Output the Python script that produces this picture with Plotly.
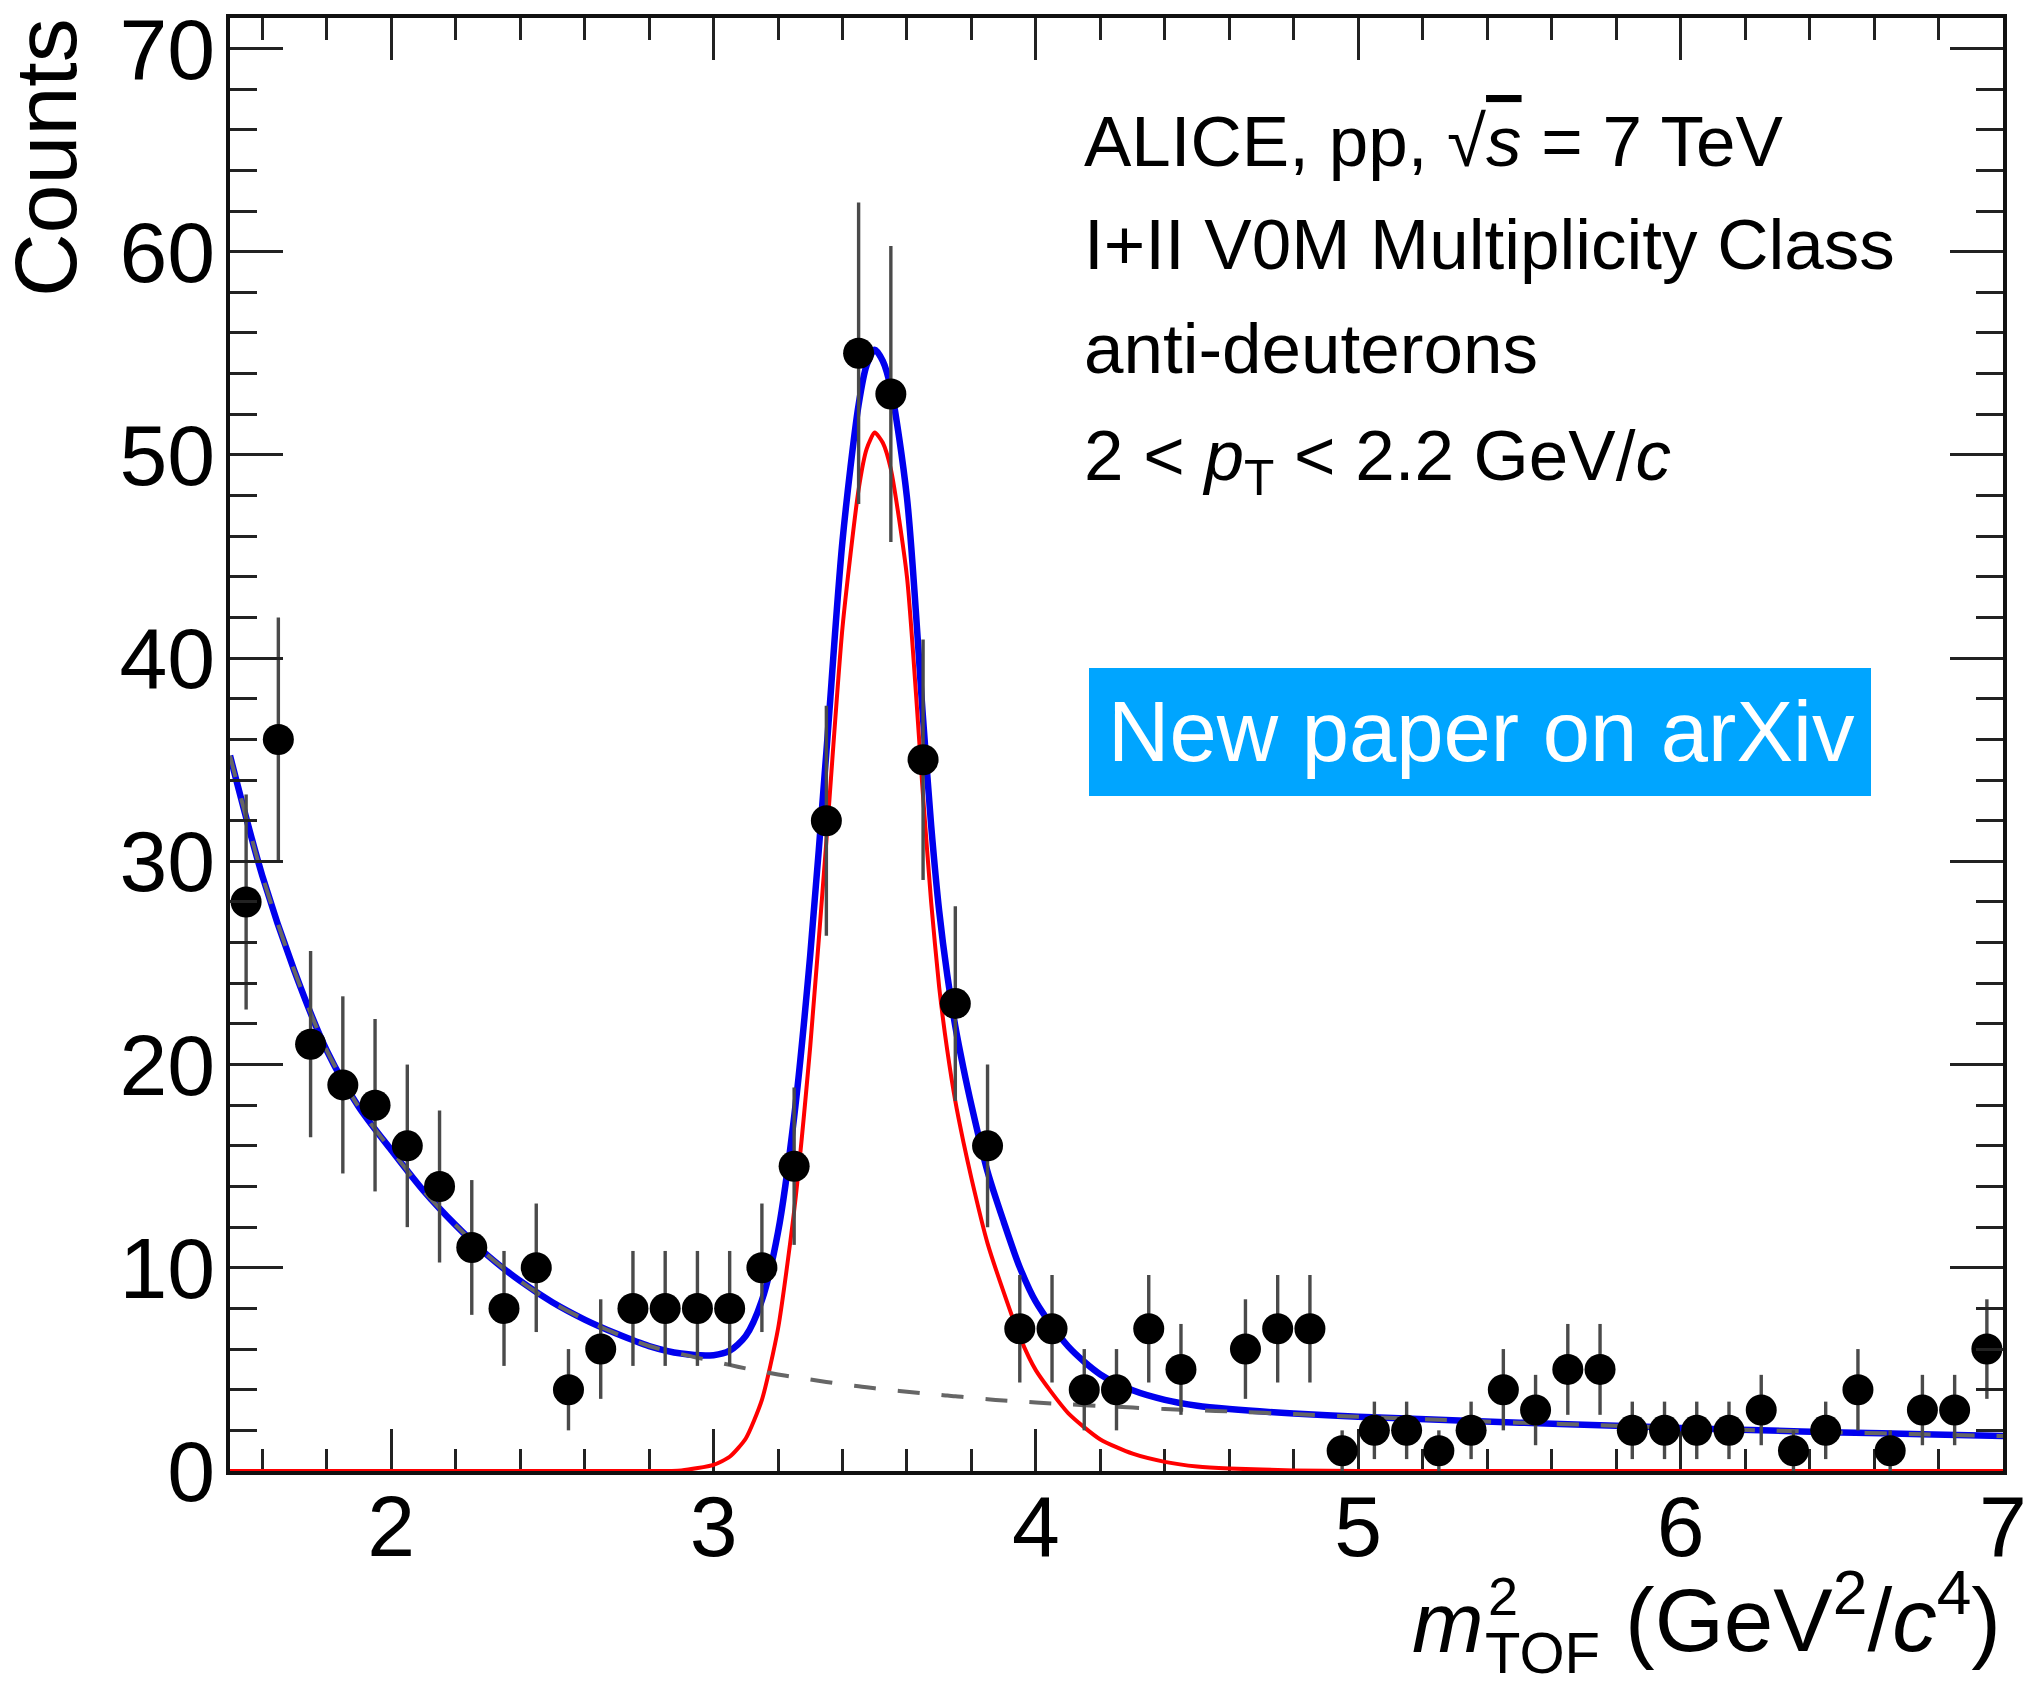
import numpy as np
import plotly.graph_objects as go

# ---- histogram: m^2_TOF bin centres and counts (bin width 0.1) ----
bin_centers = [1.55, 1.65, 1.75, 1.85, 1.95, 2.05, 2.15, 2.25, 2.35, 2.45,
               2.55, 2.65, 2.75, 2.85, 2.95, 3.05, 3.15, 3.25, 3.35, 3.45,
               3.55, 3.65, 3.75, 3.85, 3.95, 4.05, 4.15, 4.25, 4.35, 4.45,
               4.55, 4.65, 4.75, 4.85, 4.95, 5.05, 5.15, 5.25, 5.35, 5.45,
               5.55, 5.65, 5.75, 5.85, 5.95, 6.05, 6.15, 6.25, 6.35, 6.45,
               6.55, 6.65, 6.75, 6.85, 6.95]
counts = [28, 36, 21, 19, 18, 16, 14, 11, 8, 10,
          4, 6, 8, 8, 8, 8, 10, 15, 32, 55,
          53, 35, 23, 16, 7, 7, 4, 4, 7, 5,
          0, 6, 7, 7, 1, 2, 2, 1, 2, 4,
          3, 5, 5, 2, 2, 2, 2, 3, 1, 2,
          4, 1, 3, 3, 6]

# ---- fit curves sampled along m^2_TOF ----
curve_x = [1.5, 1.6, 1.7, 1.8, 1.9, 2.0, 2.1, 2.2, 2.3, 2.4,
           2.5, 2.6, 2.7, 2.8, 2.9, 3.0, 3.05, 3.1, 3.15, 3.2,
           3.25, 3.3, 3.35, 3.4, 3.45, 3.475, 3.5, 3.525, 3.55, 3.6,
           3.65, 3.675, 3.7, 3.725, 3.75, 3.775, 3.8, 3.85, 3.9, 3.95,
           4.0, 4.1, 4.2, 4.3, 4.4, 4.5, 4.6, 4.8, 5.0, 5.25,
           5.5, 5.75, 6.0, 6.25, 6.5, 6.75, 7.0]
background = [35.2, 29.3, 24.6, 20.7, 17.9, 15.8, 13.8, 12.1, 10.6, 9.35,
              8.3, 7.45, 6.75, 6.15, 5.75, 5.4, 5.22, 5.05, 4.9, 4.75,
              4.62, 4.5, 4.38, 4.27, 4.17, 4.12, 4.07, 4.02, 3.98, 3.9,
              3.82, 3.78, 3.75, 3.71, 3.68, 3.64, 3.6, 3.53, 3.47, 3.42,
              3.37, 3.28, 3.2, 3.12, 3.05, 2.99, 2.93, 2.8, 2.67, 2.52,
              2.38, 2.25, 2.12, 2.0, 1.9, 1.81, 1.72]
signal = [0, 0, 0, 0, 0, 0, 0, 0, 0, 0,
          0, 0, 0, 0, 0.03, 0.3, 0.7, 1.6, 3.5, 7.0,
          12.8, 20.9, 31.0, 41.5, 48.3, 50.3, 51.1, 50.6, 49.3, 44.0,
          33.2, 28.0, 23.8, 20.7, 18.2, 16.2, 14.4, 11.2, 8.8, 6.6,
          4.95, 2.85, 1.55, 0.85, 0.45, 0.22, 0.12, 0.03, 0, 0,
          0, 0, 0, 0, 0, 0, 0]
total = [35.2, 29.3, 24.6, 20.7, 17.9, 15.8, 13.8, 12.1, 10.6, 9.35,
         8.3, 7.45, 6.75, 6.15, 5.78, 5.7, 5.92, 6.65, 8.4, 11.75,
         17.42, 25.4, 35.38, 45.77, 52.47, 54.42, 55.17, 54.62, 53.28, 47.9,
         37.02, 31.78, 27.55, 24.41, 21.88, 19.84, 18.0, 14.73, 12.27, 10.02,
         8.32, 6.13, 4.75, 3.97, 3.5, 3.21, 3.05, 2.83, 2.67, 2.52,
         2.38, 2.25, 2.12, 2.0, 1.9, 1.81, 1.72]

x_ticks = [2, 3, 4, 5, 6, 7]
y_ticks = [0, 10, 20, 30, 40, 50, 60, 70]

# ---- canvas geometry ----
W_PX, H_PX = 2023, 1681
M_L, M_R, M_T, M_B = 230, 20, 18, 210
PW = W_PX - M_L - M_R
PH = H_PX - M_T - M_B
FONT = "Liberation Sans, Arial, Helvetica, sans-serif"


def fx(px):
    return (px - M_L) / PW


def fy(py):
    return (H_PX - M_B - py) / PH


# Empty bins are not drawn
pts = [(x, c) for x, c in zip(bin_centers, counts) if c > 0]
px_pts = [p[0] for p in pts]
py_pts = [p[1] for p in pts]
err_pts = list(np.sqrt(py_pts))

fig = go.Figure()

fig.add_trace(go.Scatter(
    x=curve_x, y=total, mode="lines",
    line=dict(color="#0000ee", width=6.5, shape="spline", smoothing=0.8),
    hoverinfo="skip", showlegend=False))
fig.add_trace(go.Scatter(
    x=curve_x, y=signal, mode="lines",
    line=dict(color="#ff0000", width=4, shape="spline", smoothing=0.6),
    hoverinfo="skip", showlegend=False))
fig.add_trace(go.Scatter(
    x=curve_x, y=background, mode="lines",
    line=dict(color="#666666", width=4, dash="22px,22px",
              shape="spline", smoothing=0.8),
    hoverinfo="skip", showlegend=False))
fig.add_trace(go.Scatter(
    x=px_pts, y=py_pts, mode="markers",
    marker=dict(color="black", size=31, line=dict(width=0)),
    error_y=dict(type="data", array=err_pts, visible=True,
                 color="#4a4a4a", thickness=3.4, width=0),
    hoverinfo="skip", showlegend=False))

axis_common = dict(
    showgrid=False, zeroline=False, showline=True, linecolor="#111111",
    linewidth=3.5, mirror="ticks", ticks="inside", tickcolor="#222222",
    tickwidth=3, tickfont=dict(family=FONT, size=86, color="black"),
    automargin=False, ticklabeloverflow="allow",
)

fig.update_xaxes(
    range=[1.5, 7.0], tickvals=x_ticks, ticktext=[str(v) for v in x_ticks],
    ticklen=42, ticklabelstandoff=-22, layer="below traces",
    minor=dict(ticks="inside", dtick=0.2, tick0=0, ticklen=22,
               tickwidth=3, tickcolor="#222222"),
    **axis_common)
fig.update_yaxes(
    range=[0, 71.5], tickvals=y_ticks, ticktext=[str(v) for v in y_ticks],
    ticklen=53, ticklabelstandoff=-6,
    minor=dict(ticks="inside", dtick=2, tick0=0, ticklen=27,
               tickwidth=3, tickcolor="#222222"),
    **axis_common)

annotations = [
    # y-axis title
    dict(x=fx(46), y=fy(158), text="Counts", textangle=-90,
         font=dict(family=FONT, size=88, color="black"),
         xanchor="center", yanchor="middle"),
    # x-axis title pieces
    dict(x=fx(2003), y=fy(1672),
         text="(GeV<sup>2</sup>/<i>c</i><sup>4</sup>)",
         font=dict(family=FONT, size=89, color="black"),
         xanchor="right", yanchor="bottom"),
    dict(x=fx(1486), y=fy(1672), text="<i>m</i>",
         font=dict(family=FONT, size=86, color="black"),
         xanchor="right", yanchor="bottom"),
    dict(x=fx(1486), y=fy(1596), text="2",
         font=dict(family=FONT, size=54, color="black"),
         xanchor="left", yanchor="middle"),
    dict(x=fx(1483), y=fy(1652), text="TOF",
         font=dict(family=FONT, size=58, color="black"),
         xanchor="left", yanchor="middle"),
    # info text
    dict(x=fx(1082), y=fy(141),
         text="ALICE, pp, √<span style='text-decoration:overline'><i>s</i></span> = 7 TeV",
         font=dict(family=FONT, size=71, color="black"),
         xanchor="left", yanchor="middle"),
    dict(x=fx(1082), y=fy(245), text="I+II V0M Multiplicity Class",
         font=dict(family=FONT, size=71, color="black"),
         xanchor="left", yanchor="middle"),
    dict(x=fx(1082), y=fy(348), text="anti-deuterons",
         font=dict(family=FONT, size=71, color="black"),
         xanchor="left", yanchor="middle"),
    dict(x=fx(1082), y=fy(461),
         text="2 &lt; <i>p</i><sub>T</sub> &lt; 2.2 GeV/<i>c</i>",
         font=dict(family=FONT, size=71, color="black"),
         xanchor="left", yanchor="middle"),
    # banner
    dict(x=fx(1481), y=fy(732), text="New paper on arXiv",
         font=dict(family=FONT, size=85, color="white"),
         xanchor="center", yanchor="middle"),
]
for a in annotations:
    a.update(xref="paper", yref="paper", showarrow=False)

fig.update_layout(
    width=W_PX, height=H_PX,
    margin=dict(l=M_L, r=M_R, t=M_T, b=M_B, pad=0, autoexpand=False),
    paper_bgcolor="white", plot_bgcolor="white",
    annotations=annotations,
    shapes=[dict(type="rect", xref="paper", yref="paper",
                 x0=fx(1089), x1=fx(1871), y0=fy(796), y1=fy(668),
                 fillcolor="#00a5ff", line=dict(width=0), layer="above")],
)

fig.write_html("out.html")
